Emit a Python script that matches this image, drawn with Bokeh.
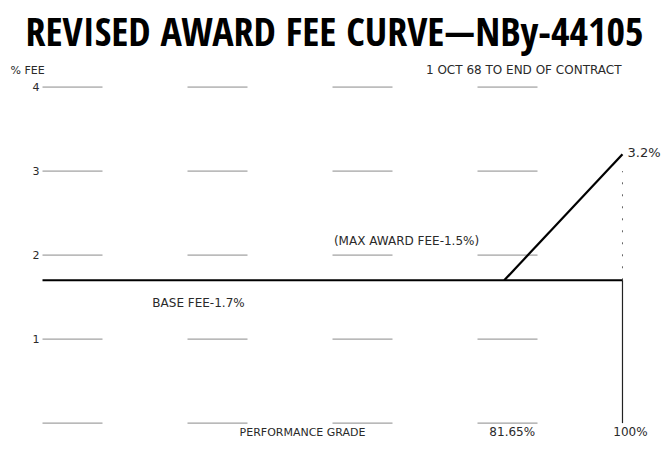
from bokeh.plotting import figure
from bokeh.models import ColumnDataSource, Label, Range1d
from bokeh.embed import file_html
from bokeh.resources import INLINE
from bokeh.core.properties import value

# ---- data ----
base_grade = [10, 81.65, 100]
base_fee = [1.7, 1.7, 1.7]
award_grade = [81.65, 100]
award_fee = [1.7, 3.2]
grid_levels = [0, 1, 2, 3, 4]
y_ticks = [1, 2, 3, 4]
y_tick_labels = ["1", "2", "3", "4"]
grade_ticks = [81.65, 100]
grade_tick_labels = ["81.65%", "100%"]
limit_grade = [100, 100]
limit_solid = [0, 1.7]
limit_dotted = [1.7, 3.0]
grid_start, grid_end = 10, 99

SMALL = "DejaVu Sans"
INK = "#2a2a2a"

p = figure(width=668, height=451, output_backend="svg", toolbar_location=None,
           x_range=Range1d(3.482, 107.14), y_range=Range1d(-0.338, 4.352),
           min_border_left=0, min_border_right=0, min_border_bottom=0,
           min_border_top=57, x_axis_location=None, y_axis_location=None)
p.outline_line_color = None
p.xgrid.visible = False
p.ygrid.visible = False

p.title.text = "REVISED AWARD FEE CURVE\u2014NBy-44105"
p.title.text_font = "Open Sans Condensed"
p.title.text_font_style = "bold"
p.title.text_font_size = "40px"
p.title.text_color = "#000000"
p.title.align = "center"
p.title.standoff = 0

# broken dashed grid lines
n = len(grid_levels)
gsrc = ColumnDataSource(dict(x0=[grid_start] * n, x1=[grid_end] * n, y=grid_levels))
p.segment(x0="x0", y0="y", x1="x1", y1="y", source=gsrc, line_color="#8a8a8a",
          line_width=1, line_dash="60 85")

# y tick labels
ysrc = ColumnDataSource(dict(x=[grid_start] * len(y_ticks), y=y_ticks, t=y_tick_labels))
p.text(x="x", y="y", text="t", source=ysrc, x_offset=-3, text_align="right",
       text_baseline="middle", text_font=value(SMALL), text_font_size="11px", text_color=INK)

# 100% limit line
p.line(limit_grade, limit_solid, line_color="#222222", line_width=1.2)
p.line(limit_grade, limit_dotted, line_color="#666666", line_width=1, line_dash="2 10")

# base fee and award curve
p.line(base_grade, base_fee, line_color="#000000", line_width=2)
p.line(award_grade, award_fee, line_color="#000000", line_width=2.2)

# x tick labels
tsrc = ColumnDataSource(dict(x=grade_ticks, y=[-0.11, -0.11], t=grade_tick_labels))
p.text(x="x", y="y", text="t", source=tsrc, x_offset=8, text_align="center",
       text_baseline="middle", text_font=value(SMALL), text_font_size="12px", text_color=INK)

def lab(x, y, t, align="left", size="12px"):
    p.add_layout(Label(x=x, y=y, text=t, text_align=align, text_baseline="middle",
                       text_font=SMALL, text_font_size=size, text_color=INK))

lab(5.03, 4.198, "% FEE", size="11px")
lab(99.85, 4.198, "1 OCT 68 TO END OF CONTRACT", align="right")
lab(66.49, 2.171, "(MAX AWARD FEE-1.5%)", align="center")
lab(34.21, 1.433, "BASE FEE-1.7%", align="center")
lab(100.78, 3.22, "3.2%", size="13px")
lab(50.35, -0.114, "PERFORMANCE GRADE", align="center", size="11px")

open("out.html", "w").write(file_html(p, INLINE))
